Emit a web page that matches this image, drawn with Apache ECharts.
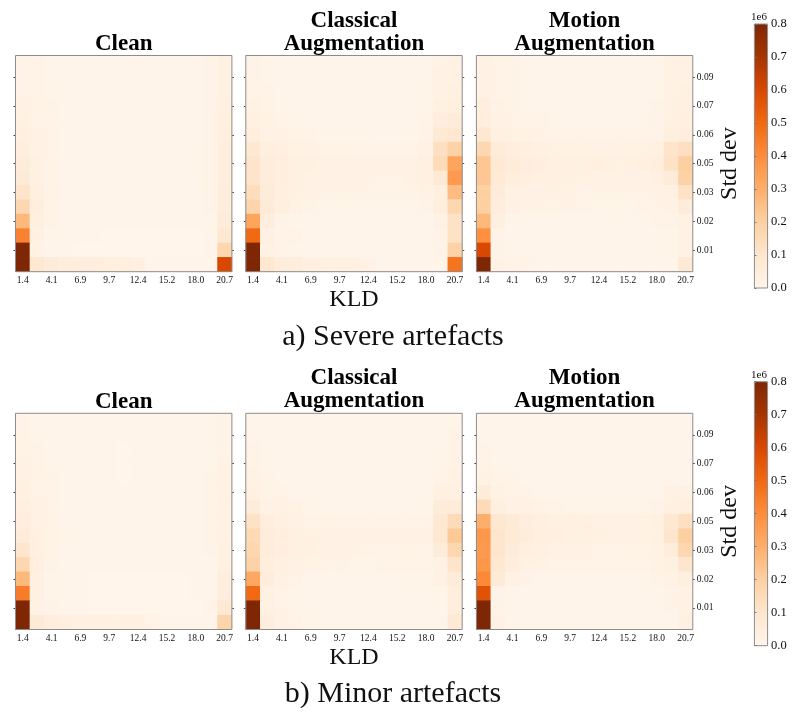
<!DOCTYPE html>
<html><head><meta charset="utf-8">
<style>html,body{margin:0;padding:0;background:#fff}#c{width:800px;height:719px}</style>
<script src="https://cdn.jsdelivr.net/npm/echarts@6/dist/echarts.min.js"></script>
</head><body><div id="c"></div>
<script>
const kldLabels = ['1.4','2.8','4.1','5.5','6.9','8.3','9.7','11.0','12.4','13.8','15.2','16.6','18.0','19.3','20.7'];
const stdLabels = ['0.00','0.01','0.01','0.02','0.03','0.03','0.04','0.05','0.05','0.06','0.07','0.07','0.08','0.09','0.10'];
const colorStops = ['#fff5eb','#fee6ce','#fdd0a2','#fdae6b','#fd8d3c','#f16913','#d94801','#a63603','#7f2704'];
const titles = ['Clean','Classical\nAugmentation','Motion\nAugmentation'];
const captions = ['a) Severe artefacts','b) Minor artefacts'];
// values in units of 1e6, rows listed top (0.10) to bottom (0.00)
const severeClean = [
[.015,.012,.008,.005,.005,.005,.005,.005,.005,.005,.005,.005,.006,.012,.03],
[.015,.012,.008,.005,.005,.005,.005,.005,.005,.005,.005,.005,.006,.012,.03],
[.018,.014,.010,.006,.005,.005,.005,.005,.005,.005,.005,.005,.007,.012,.03],
[.025,.016,.012,.006,.005,.005,.005,.005,.005,.005,.005,.005,.008,.014,.035],
[.030,.018,.013,.007,.005,.005,.005,.005,.005,.005,.005,.005,.008,.014,.04],
[.040,.020,.014,.008,.006,.005,.005,.005,.005,.006,.005,.005,.008,.015,.04],
[.050,.025,.015,.008,.006,.006,.005,.005,.005,.005,.005,.005,.008,.015,.045],
[.060,.030,.015,.008,.006,.006,.005,.005,.005,.005,.005,.005,.010,.018,.05],
[.070,.035,.016,.008,.006,.006,.005,.005,.005,.005,.005,.005,.008,.016,.05],
[.110,.040,.018,.008,.006,.005,.005,.005,.005,.005,.005,.005,.006,.014,.055],
[.170,.045,.016,.007,.005,.005,.005,.005,.005,.005,.005,.005,.005,.012,.055],
[.270,.040,.012,.006,.005,.004,.004,.004,.004,.004,.004,.004,.004,.010,.06],
[.430,.030,.010,.005,.004,.004,.003,.003,.003,.003,.003,.003,.003,.008,.09],
[.800,.025,.008,.004,.003,.003,.003,.003,.003,.003,.003,.003,.003,.006,.17],
[.800,.090,.060,.050,.045,.045,.040,.040,.035,.005,.004,.004,.004,.005,.60]];
const severeClassical = [
[.012,.010,.007,.005,.005,.005,.005,.005,.005,.005,.005,.006,.008,.018,.025],
[.015,.010,.007,.005,.005,.005,.005,.005,.005,.005,.005,.006,.008,.020,.025],
[.018,.012,.008,.006,.005,.005,.005,.005,.005,.005,.005,.006,.009,.022,.03],
[.028,.016,.010,.008,.006,.005,.005,.005,.005,.005,.005,.006,.010,.030,.04],
[.035,.020,.014,.010,.008,.007,.006,.006,.006,.005,.006,.007,.012,.050,.06],
[.050,.028,.022,.016,.012,.010,.010,.009,.008,.008,.008,.010,.018,.080,.09],
[.090,.040,.035,.025,.020,.018,.016,.015,.014,.014,.014,.018,.028,.130,.19],
[.110,.055,.045,.035,.030,.028,.026,.026,.024,.022,.020,.024,.035,.150,.33],
[.110,.055,.045,.035,.028,.026,.024,.022,.022,.018,.018,.022,.035,.080,.36],
[.140,.060,.040,.030,.022,.018,.016,.016,.015,.012,.012,.014,.020,.040,.26],
[.180,.070,.040,.022,.012,.010,.010,.010,.008,.008,.008,.009,.012,.045,.17],
[.330,.045,.014,.010,.007,.006,.006,.006,.006,.005,.005,.005,.007,.020,.12],
[.500,.030,.012,.012,.008,.006,.006,.005,.005,.005,.004,.004,.005,.018,.12],
[.800,.025,.014,.010,.008,.006,.006,.005,.005,.004,.004,.004,.005,.014,.19],
[.800,.090,.055,.045,.035,.035,.030,.030,.028,.006,.005,.005,.006,.010,.47]];
const severeMotion = [
[.020,.016,.012,.008,.006,.006,.005,.005,.005,.005,.005,.006,.008,.020,.028],
[.028,.018,.013,.010,.008,.007,.006,.006,.006,.006,.006,.007,.010,.024,.028],
[.028,.018,.012,.008,.007,.006,.006,.006,.006,.006,.006,.007,.010,.024,.030],
[.045,.020,.014,.010,.008,.007,.007,.006,.006,.006,.007,.008,.012,.028,.035],
[.050,.024,.018,.014,.012,.010,.008,.008,.007,.007,.008,.010,.014,.030,.04],
[.090,.035,.028,.024,.018,.014,.012,.012,.012,.012,.012,.014,.018,.040,.05],
[.170,.065,.050,.040,.032,.028,.024,.022,.020,.020,.020,.024,.032,.110,.13],
[.230,.080,.065,.050,.040,.036,.036,.036,.040,.030,.032,.040,.050,.120,.20],
[.230,.075,.050,.040,.036,.034,.030,.030,.028,.028,.026,.028,.035,.060,.19],
[.200,.060,.035,.025,.024,.020,.020,.018,.016,.016,.016,.018,.024,.030,.12],
[.200,.050,.025,.012,.016,.012,.012,.012,.010,.010,.010,.012,.018,.024,.06],
[.270,.040,.010,.008,.008,.006,.006,.006,.006,.006,.006,.008,.012,.014,.025],
[.390,.012,.008,.006,.005,.005,.004,.004,.004,.004,.004,.005,.008,.010,.02],
[.600,.012,.008,.006,.005,.005,.004,.004,.004,.004,.004,.004,.006,.010,.02],
[.800,.020,.015,.012,.008,.006,.006,.008,.008,.005,.005,.005,.005,.010,.08]];
const minorClean = [
[.012,.008,.006,.004,.004,.004,.004,.004,.004,.004,.004,.004,.005,.010,.018],
[.014,.009,.006,.004,.004,.004,.004,.004,.004,.004,.004,.004,.005,.010,.018],
[.016,.012,.008,.005,.004,.004,.004,.003,.004,.004,.004,.004,.005,.010,.018],
[.022,.014,.010,.006,.005,.004,.004,.003,.004,.004,.004,.004,.005,.010,.025],
[.028,.016,.012,.007,.005,.004,.004,.003,.004,.004,.004,.004,.006,.012,.025],
[.032,.018,.014,.008,.005,.004,.004,.004,.004,.004,.004,.004,.006,.012,.025],
[.040,.022,.014,.008,.005,.004,.004,.004,.004,.004,.004,.004,.006,.012,.025],
[.050,.028,.016,.008,.006,.005,.004,.004,.004,.004,.004,.004,.007,.014,.025],
[.060,.032,.016,.009,.006,.005,.004,.004,.004,.004,.004,.004,.007,.018,.028],
[.100,.036,.016,.008,.006,.005,.004,.004,.004,.004,.004,.004,.006,.012,.03],
[.170,.040,.014,.007,.005,.004,.004,.004,.004,.004,.004,.004,.005,.008,.03],
[.270,.035,.010,.005,.004,.003,.003,.003,.003,.003,.003,.003,.004,.006,.05],
[.450,.030,.010,.005,.004,.003,.003,.003,.003,.003,.003,.003,.004,.008,.05],
[.800,.025,.012,.010,.006,.003,.003,.003,.003,.003,.003,.003,.003,.012,.08],
[.800,.070,.045,.038,.036,.036,.036,.036,.032,.012,.004,.004,.004,.004,.18]];
const minorClassical = [
[.008,.006,.005,.004,.004,.004,.004,.004,.004,.004,.004,.004,.004,.006,.010],
[.008,.006,.005,.004,.004,.004,.004,.004,.004,.004,.004,.004,.005,.008,.012],
[.012,.010,.006,.005,.005,.004,.004,.004,.004,.004,.004,.004,.005,.008,.014],
[.016,.010,.006,.005,.004,.004,.004,.004,.004,.004,.004,.004,.006,.010,.016],
[.022,.012,.007,.005,.004,.004,.004,.004,.004,.004,.004,.004,.006,.018,.02],
[.035,.016,.012,.008,.006,.005,.005,.005,.004,.004,.004,.005,.007,.035,.03],
[.060,.022,.020,.016,.010,.008,.008,.007,.006,.006,.006,.007,.010,.060,.06],
[.120,.050,.035,.025,.018,.016,.014,.014,.014,.014,.014,.014,.018,.085,.15],
[.160,.055,.045,.035,.032,.026,.024,.026,.026,.022,.020,.022,.025,.090,.22],
[.170,.055,.040,.035,.030,.025,.022,.020,.018,.014,.014,.016,.018,.060,.17],
[.190,.050,.035,.025,.016,.012,.012,.010,.010,.012,.012,.012,.014,.025,.11],
[.320,.055,.020,.012,.008,.008,.008,.008,.008,.008,.008,.010,.010,.020,.06],
[.500,.030,.012,.010,.008,.006,.006,.005,.005,.005,.005,.006,.006,.010,.05],
[.800,.030,.014,.010,.008,.006,.006,.005,.005,.005,.005,.004,.005,.008,.05],
[.800,.045,.020,.014,.010,.008,.006,.006,.008,.004,.004,.004,.004,.008,.08]];
const minorMotion = [
[.008,.006,.005,.004,.004,.004,.004,.004,.004,.004,.004,.004,.004,.005,.006],
[.008,.006,.005,.004,.004,.004,.004,.004,.004,.004,.004,.004,.005,.006,.008],
[.012,.008,.006,.005,.004,.004,.004,.004,.004,.004,.004,.004,.005,.006,.008],
[.014,.010,.008,.006,.005,.004,.004,.004,.004,.004,.004,.004,.005,.006,.008],
[.028,.016,.012,.008,.006,.005,.005,.005,.005,.005,.005,.005,.006,.008,.008],
[.060,.022,.018,.012,.008,.006,.006,.005,.005,.005,.005,.005,.006,.025,.02],
[.150,.040,.028,.020,.016,.012,.010,.010,.010,.010,.010,.010,.014,.035,.04],
[.300,.090,.070,.050,.040,.035,.034,.032,.028,.024,.022,.024,.030,.090,.13],
[.370,.100,.075,.055,.040,.038,.036,.036,.034,.024,.020,.024,.030,.100,.20],
[.360,.100,.060,.040,.032,.028,.024,.020,.018,.014,.016,.018,.020,.055,.17],
[.370,.085,.045,.028,.024,.018,.012,.012,.012,.012,.012,.012,.020,.030,.10],
[.410,.070,.025,.012,.008,.008,.008,.008,.008,.008,.008,.010,.014,.020,.04],
[.570,.012,.008,.006,.005,.005,.005,.004,.004,.004,.004,.006,.008,.012,.02],
[.800,.012,.008,.006,.005,.005,.005,.005,.004,.004,.004,.004,.006,.012,.02],
[.800,.020,.010,.006,.005,.005,.005,.005,.005,.005,.004,.004,.004,.008,.03]];

const panelData = [severeClean, severeClassical, severeMotion, minorClean, minorClassical, minorMotion];
const panelLeft = [15.5, 245.8, 476.4];
const rowTop = [55.5, 413.3];
const PW = 216.4, PH = 216.2;
const serif = '"Liberation Serif","Times New Roman",serif';
const oddIdx = i => i % 2 === 1;
const evenIdx = i => i % 2 === 0;

const grid = [], xAxis = [], yAxis = [], series = [], title = [], visualMap = [];
panelData.forEach((rows, p) => {
  const c = p % 3, r = Math.floor(p / 3);
  grid.push({left: panelLeft[c], top: rowTop[r], width: PW, height: PH, show: true, z: 5,
    backgroundColor: 'transparent', borderColor: '#8c8c8c', borderWidth: 1, containLabel: false});
  xAxis.push({type: 'category', gridIndex: p, data: kldLabels, position: 'bottom',
    name: c === 1 ? 'KLD' : '', nameLocation: 'middle', nameGap: 16,
    nameTextStyle: {fontFamily: serif, fontSize: 24, color: '#111'},
    axisLine: {show: false}, axisTick: {show: false}, splitLine: {show: false},
    axisLabel: {interval: (i) => evenIdx(i), fontFamily: serif, fontSize: 9.5, color: '#111', margin: 4}});
  const yBase = {type: 'category', gridIndex: p, data: stdLabels, splitLine: {show: false}, axisLine: {show: false},
    axisTick: {show: true, alignWithLabel: true, length: 2, interval: (i) => oddIdx(i), lineStyle: {color: '#444', width: 1}}};
  yAxis.push({...yBase, position: 'left', axisLabel: {show: false}});
  yAxis.push({...yBase, position: 'right',
    name: c === 2 ? 'Std dev' : '', nameLocation: 'middle', nameGap: 22, nameRotate: 90,
    nameTextStyle: {fontFamily: serif, fontSize: 24, color: '#111'},
    axisLabel: {show: c === 2, interval: (i) => oddIdx(i), fontFamily: serif, fontSize: 9.5, color: '#111', margin: 4}});
  const cells = [];
  rows.forEach((row, k) => row.forEach((v, x) => cells.push([x, 14 - k, v])));
  series.push({type: 'heatmap', xAxisIndex: p, yAxisIndex: p * 2, data: cells, silent: true,
    progressive: 0, animation: false});
});

// colour bars: a visualMap for the ramp and a value axis for its ticks
const barTop = [24, 381.7], barH = 264, barLeft = 754.4, barW = 13.2;
barTop.forEach((t, r) => {
  visualMap.push({type: 'continuous', min: 0, max: 0.8, left: barLeft, top: t, itemWidth: barW, itemHeight: barH,
    padding: 0, calculable: false, hoverLink: false, text: null, seriesIndex: [r * 3, r * 3 + 1, r * 3 + 2],
    inRange: {color: colorStops}});
  grid.push({left: barLeft, top: t, width: barW, height: barH, show: true, z: 6, backgroundColor: 'transparent',
    borderColor: '#8c8c8c', borderWidth: 1});
  const g = grid.length - 1;
  xAxis.push({type: 'value', gridIndex: g, show: false, min: 0, max: 1});
  yAxis.push({type: 'value', gridIndex: g, min: 0, max: 0.8, interval: 0.1, position: 'right', z: 6,
    splitLine: {show: false}, axisLine: {show: false},
    axisTick: {show: true, length: 2, lineStyle: {color: '#777'}},
    axisLabel: {formatter: v => v.toFixed(1), fontFamily: serif, fontSize: 12.5, color: '#111', margin: 3.5}});
  series.push({type: 'custom', xAxisIndex: g, yAxisIndex: yAxis.length - 1, data: [], renderItem: () => null, silent: true});
  title.push({text: '1e6', left: 759, top: t - 12, textAlign: 'center', padding: 0,
    textStyle: {fontFamily: serif, fontSize: 11, fontWeight: 'normal', color: '#111'}});
});

// panel titles and captions
const titleTops = [[33, 10], [391, 367]];
[0, 1].forEach(r => [0, 1, 2].forEach(c => {
  title.push({text: titles[c], left: panelLeft[c] + PW / 2, top: c === 0 ? titleTops[r][0] : titleTops[r][1],
    textAlign: 'center', padding: 0,
    textStyle: {fontFamily: serif, fontSize: 23, fontWeight: 'bold', color: '#000', lineHeight: 23}});
}));
[322, 679].forEach((t, r) => title.push({text: captions[r], left: 393, top: t, textAlign: 'center', padding: 0,
  textStyle: {fontFamily: serif, fontSize: 30, fontWeight: 'normal', color: '#111'}}));

const chart = echarts.init(document.getElementById('c'), null, {renderer: 'canvas', width: 800, height: 719});
chart.setOption({animation: false, backgroundColor: '#fff', grid, xAxis, yAxis, series, title, visualMap, tooltip: {show: false}});
</script></body></html>
